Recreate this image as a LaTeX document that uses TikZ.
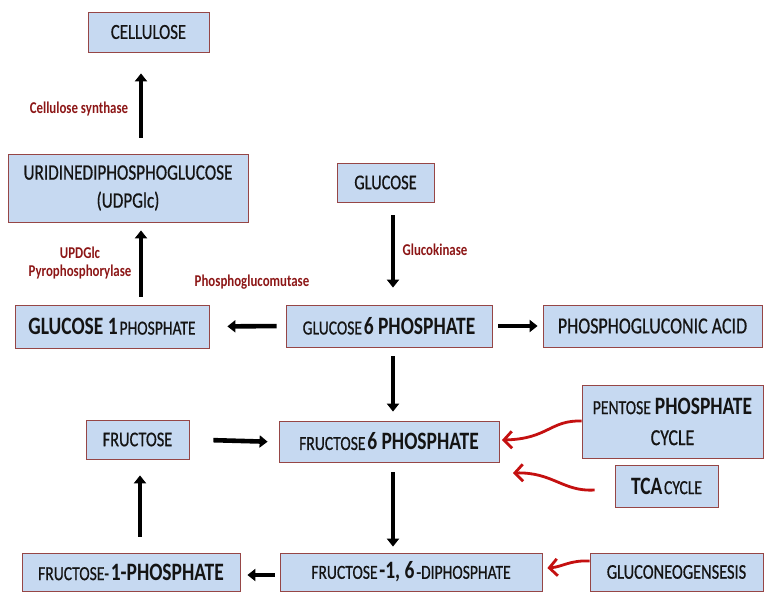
\documentclass[tikz,border=0pt]{standalone}
\usepackage{fontspec}
\setmainfont{Carlito}[FakeStretch=0.78,UprightFeatures={FakeBold=0.6}]
\usetikzlibrary{arrows.meta,calc}
\definecolor{boxfill}{RGB}{198,217,241}
\definecolor{boxline}{RGB}{150,70,70}
\definecolor{lblred}{RGB}{140,22,22}
\definecolor{curvred}{RGB}{196,16,16}
\newcommand\tsm[1]{{\fontsize{20}{24}\selectfont #1}}
\newcommand\tbg[1]{{\fontsize{25}{29}\selectfont\bfseries #1}}
\begin{document}
\begin{tikzpicture}[x=1pt,y=-1pt,
  box/.style={draw=boxline,line width=0.8pt,fill=boxfill,inner sep=0pt,align=center,text=black!92},
  lbl/.style={text=lblred,font=\fontsize{16.5}{17}\selectfont\bfseries,inner sep=0pt,align=center},
  varr/.style={line width=3.8pt,-{Triangle[length=8pt,width=12pt]}},
  harr/.style={line width=4.6pt,-{Triangle[length=8pt,width=12pt]}},
  rarr/.style={curvred,line width=2.8pt,-{Straight Barb[length=8pt,width=17pt]}}]
\useasboundingbox (0,0) rectangle (764,592);
% boxes
\node[box,minimum width=121pt,minimum height=40pt,font=\fontsize{21.5}{25}\selectfont] (cel) at (148.5,32) {CELLULOSE};
\node[box,minimum width=240pt,minimum height=68pt,font=\fontsize{22}{28}\selectfont] (udp) at (128,188) {URIDINEDIPHOSPHOGLUCOSE\\(UDPGlc)};
\node[box,minimum width=97pt,minimum height=39pt,font=\fontsize{21}{25}\selectfont] (glc) at (385.5,182.5) {GLUCOSE};
\node[box,minimum width=194pt,minimum height=43pt] (g1p) at (112,326.5) {\tbg{GLUCOSE 1} \tsm{PHOSPHATE}};
\node[box,minimum width=206pt,minimum height=42pt] (g6p) at (389,326) {\tsm{GLUCOSE} \tbg{6 PHOSPHATE}};
\node[box,minimum width=219pt,minimum height=42pt,font=\fontsize{23}{27}\selectfont] (pga) at (652.5,326) {PHOSPHOGLUCONIC ACID};
\node[box,minimum width=103pt,minimum height=39pt,font=\fontsize{21}{25}\selectfont] (fru) at (137.5,439.5) {FRUCTOSE};
\node[box,minimum width=220pt,minimum height=41pt] (f6p) at (389,441.5) {\tsm{FRUCTOSE} \tbg{6 PHOSPHATE}};
\node[box,minimum width=181pt,minimum height=73pt,font=\fontsize{23}{31}\selectfont] (ppc) at (672.5,421.5) {\tsm{PENTOSE} \tbg{PHOSPHATE}\\CYCLE};
\node[box,minimum width=103pt,minimum height=42pt] (tca) at (666.5,486) {\tbg{TCA}\,\tsm{CYCLE}};
\node[box,minimum width=218pt,minimum height=38pt] (f1p) at (131,572) {\tsm{FRUCTOSE-} \tbg{1-PHOSPHATE}};
\node[box,minimum width=262pt,minimum height=38pt] (f16) at (411,572) {\tsm{FRUCTOSE} \tbg{-1, 6} \tsm{-DIPHOSPHATE}};
\node[box,minimum width=173pt,minimum height=38pt,font=\fontsize{21}{25}\selectfont] (gng) at (676.5,572) {GLUCONEOGENSESIS};
% enzyme labels
\node[lbl] (lcs) at (79,109) {Cellulose synthase};
\node[lbl] (lud) at (80,263) {UPDGlc\\[1pt]Pyrophosphorylase};
\node[lbl] (lpg) at (252,282) {Phosphoglucomutase};
\node[lbl] (lgk) at (435,250) {Glucokinase};
% black arrows
\draw[varr,shorten <=16pt,shorten >=21pt] ($(udp.north)+(13,0)$) -- ($(cel.south)+(-7.5,0)$);
\draw[varr,shorten <=8pt,shorten >=8pt] ($(g1p.north)+(29,0)$) -- ($(udp.south)+(13,0)$);
\draw[varr,shorten <=13pt,shorten >=17pt] ($(glc.south)+(7.5,0)$) -- ($(g6p.north)+(4,0)$);
\draw[harr,shorten <=9pt,shorten >=18pt] (g6p.west) -- (g1p.east);
\draw[harr,shorten <=6pt,shorten >=5pt] (g6p.east) -- (pga.west);
\draw[varr,shorten <=9pt,shorten >=9pt] ($(g6p.south)+(4,0)$) -- ($(f6p.north)+(4,0)$);
\draw[harr,shorten <=24pt,shorten >=11pt] (fru.east) -- ($(f6p.west)+(0,0.5)$);
\draw[varr,shorten <=10pt,shorten >=6pt] ($(f6p.south)+(4,0)$) -- ($(f16.north)+(-18,0)$);
\draw[harr,shorten <=5pt,shorten >=7pt] ($(f16.west)+(0,3)$) -- ($(f1p.east)+(0,3)$);
\draw[varr,shorten <=16pt,shorten >=16pt] ($(f1p.north)+(9,0)$) -- ($(fru.south)+(2.5,0)$);
% red curved arrows
\coordinate (ppcs) at ($(ppc.west)+(0,-0.5)$);
\coordinate (ppct) at (502,440);
\draw[rarr] (ppcs) .. controls (550,420) and (548,439) .. (ppct);
\coordinate (tcas) at ($(tca.west)+(-20,4)$);
\coordinate (tcat) at (513,473);
\draw[rarr] (tcas) .. controls (563,492) and (553,472) .. (tcat);
\coordinate (gngs) at ($(gng.west)+(0,-11)$);
\coordinate (gngt) at ($(f16.east)+(5,-4)$);
\draw[rarr] (gngs) .. controls (570,560) and (562,567) .. (gngt);
\end{tikzpicture}
\end{document}
